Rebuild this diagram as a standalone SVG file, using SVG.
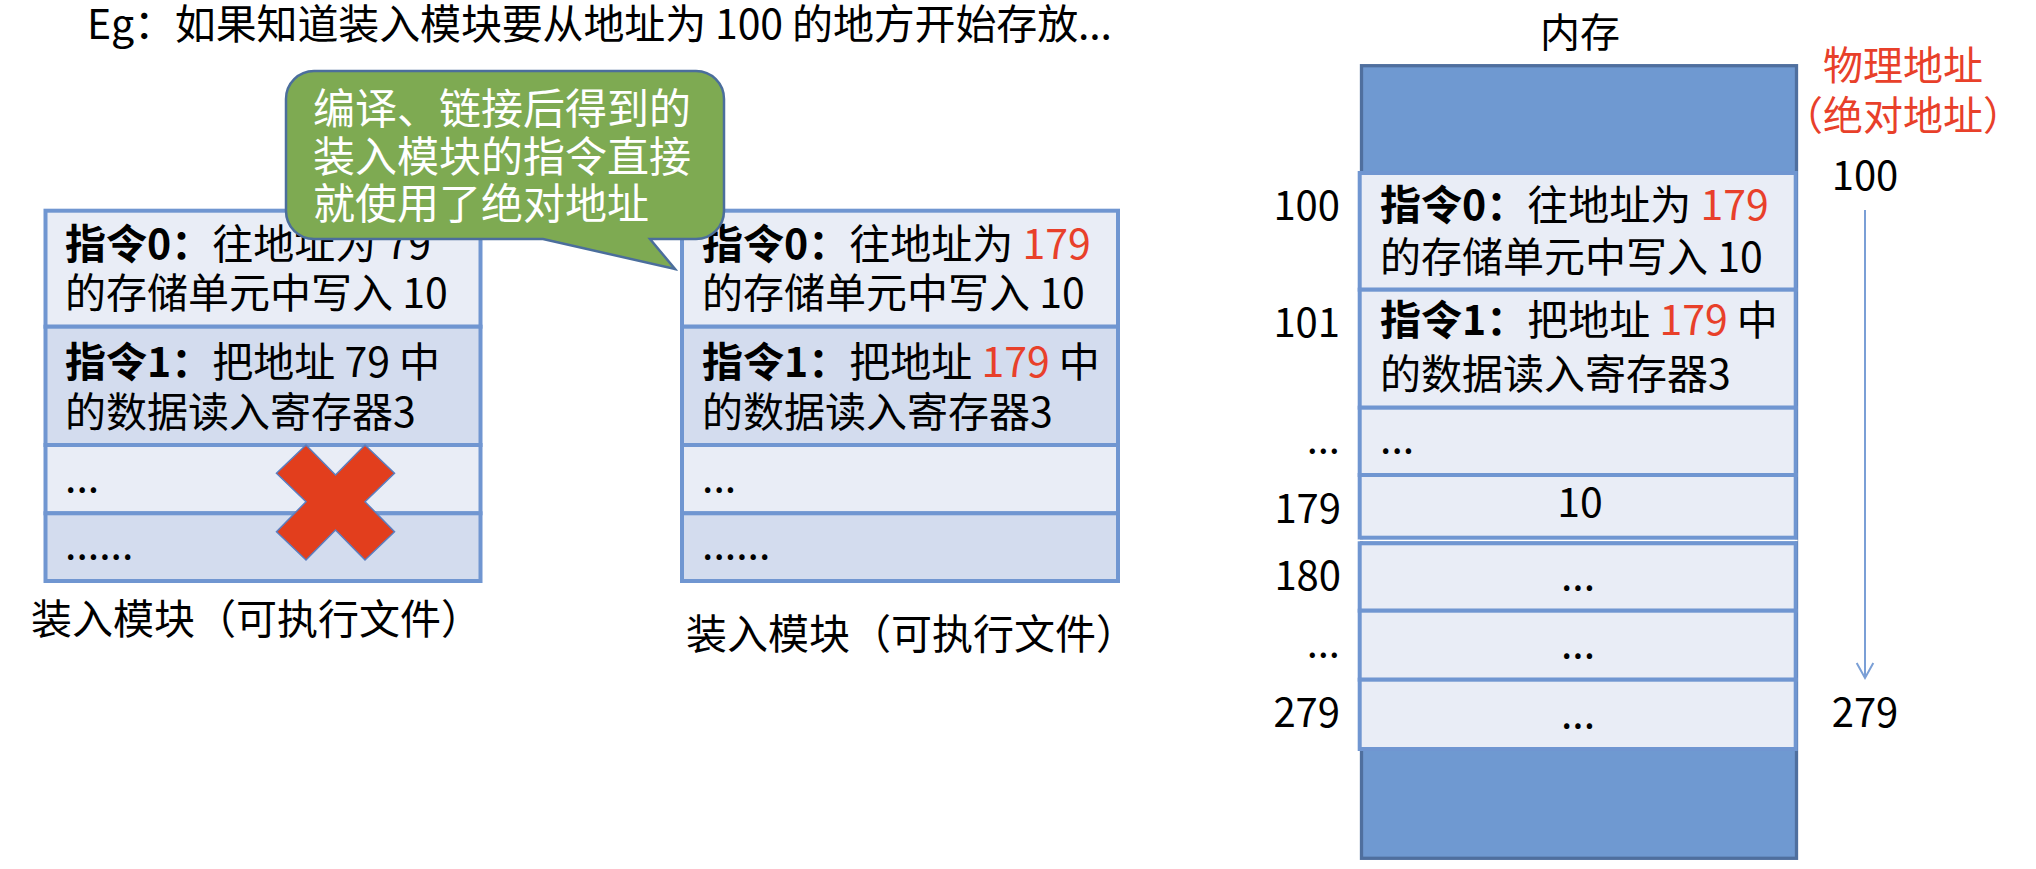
<svg xmlns="http://www.w3.org/2000/svg" width="2036" height="869" viewBox="0 0 2036 869">
<style>
text{font-family:"Noto Sans CJK SC","Noto Sans",sans-serif;fill:#000;}
.t40{font-size:40px;}
.t41{font-size:41px;}
.t42{font-size:42px;}
.b{font-weight:bold;}
.red{fill:#E8402A;}
.white{fill:#FFFFFF;}
.light{fill:#E9EDF6;stroke:#7096D1;stroke-width:4;}
.dark{fill:#D3DCEE;stroke:#7096D1;stroke-width:4;}
.mid{text-anchor:middle;}
.end{text-anchor:end;}
</style>
<defs>
<marker id="vhead" markerUnits="userSpaceOnUse" markerWidth="20" markerHeight="22" viewBox="-17 -11 19 22" refX="0" refY="0" orient="auto">
<path d="M-15,-8.3 L0,0 L-15,8.3" fill="none" stroke="#7A9FD6" stroke-width="2"/>
</marker>
</defs>
<rect x="0" y="0" width="2036" height="869" fill="#FFFFFF"/>

<g id="title">
<text class="t41" x="87" y="39" textLength="1025" lengthAdjust="spacing">Eg：如果知道装入模块要从地址为 100 的地方开始存放...</text>
</g>

<g id="module-left">
<rect class="light" x="45.5" y="210.7" width="435" height="116"/>
<rect class="dark" x="45.5" y="326.7" width="435" height="118.3"/>
<rect class="light" x="45.5" y="445" width="435" height="68.3"/>
<rect class="dark" x="45.5" y="513.3" width="435" height="67.7"/>
<text class="t41" x="65" y="259"><tspan class="b">指令0：</tspan>往地址为 79</text>
<text class="t41" x="65" y="308">的存储单元中写入 10</text>
<text class="t41" x="65" y="376.5"><tspan class="b">指令1：</tspan>把地址 79 中</text>
<text class="t41" x="65" y="426.5">的数据读入寄存器3</text>
<text class="t41" x="65" y="491.5">...</text>
<text class="t41" x="65" y="559">......</text>
<text class="t41" x="31" y="633.5">装入模块（可执行文件）</text>
</g>

<g id="module-right">
<rect class="light" x="682" y="210.7" width="436" height="116"/>
<rect class="dark" x="682" y="326.7" width="436" height="118.3"/>
<rect class="light" x="682" y="445" width="436" height="68.3"/>
<rect class="dark" x="682" y="513.3" width="436" height="67.7"/>
<text class="t41" x="702" y="259"><tspan class="b">指令0：</tspan>往地址为 <tspan class="red">179</tspan></text>
<text class="t41" x="702" y="308">的存储单元中写入 10</text>
<text class="t41" x="702" y="376.5"><tspan class="b">指令1：</tspan>把地址 <tspan class="red">179</tspan> 中</text>
<text class="t41" x="702" y="426.5">的数据读入寄存器3</text>
<text class="t41" x="702" y="491.5">...</text>
<text class="t41" x="702" y="559">......</text>
<text class="t41" x="686" y="648.5">装入模块（可执行文件）</text>
</g>

<g id="cross">
<polygon points="306,445 335.5,475 365,445 394.5,473.3 365,501.7 394.5,531.7 365,560 335.5,530 306,560 276.5,531.7 306,501.7 276.5,473.3" fill="#E23E1D" stroke="#5A7EC0" stroke-width="1.5"/>
</g>

<g id="bubble">
<path d="M314,71 H696 A28,28 0 0 1 724,99 V211 A28,28 0 0 1 696,239 H650 L675,269 L543,239 H314 A28,28 0 0 1 286,211 V99 A28,28 0 0 1 314,71 Z" fill="#7EAA52" stroke="#4B6E9C" stroke-width="2.5"/>
<text class="t42 white" x="313" y="124">编译、链接后得到的</text>
<text class="t42 white" x="313" y="172">装入模块的指令直接</text>
<text class="t42 white" x="313" y="219">就使用了绝对地址</text>
</g>

<g id="memory">
<text class="t40 mid" x="1580" y="47">内存</text>
<rect x="1361.5" y="65.7" width="435" height="792.6" fill="#6F99D1" stroke="#4F6F9E" stroke-width="3.3"/>
<rect class="light" x="1359.7" y="173" width="436" height="116.7"/>
<rect class="light" x="1359.7" y="289.7" width="436" height="118"/>
<rect class="light" x="1359.7" y="407.7" width="436" height="67.3"/>
<rect class="light" x="1359.7" y="475" width="436" height="62.7"/>
<rect x="1357.7" y="539.7" width="440" height="1.6" fill="#FFFFFF"/>
<rect class="light" x="1359.7" y="543.3" width="436" height="67.4"/>
<rect class="light" x="1359.7" y="610.7" width="436" height="69"/>
<rect class="light" x="1359.7" y="679.7" width="436" height="69.3"/>
<text class="t41" x="1380" y="220"><tspan class="b">指令0：</tspan>往地址为 <tspan class="red">179</tspan></text>
<text class="t41" x="1380" y="271.5">的存储单元中写入 10</text>
<text class="t41" x="1380" y="335"><tspan class="b">指令1：</tspan>把地址 <tspan class="red">179</tspan> 中</text>
<text class="t41" x="1380" y="389">的数据读入寄存器3</text>
<text class="t41" x="1380" y="453">...</text>
<text class="t41 mid" x="1580" y="516.5">10</text>
<text class="t41 mid" x="1578" y="590">...</text>
<text class="t41 mid" x="1578" y="658">...</text>
<text class="t41 mid" x="1578" y="728">...</text>
</g>

<g id="address-labels">
<text class="t40 end" x="1340" y="220">100</text>
<text class="t40 end" x="1340" y="337">101</text>
<text class="t40 end" x="1340" y="453">...</text>
<text class="t40 end" x="1341" y="523">179</text>
<text class="t40 end" x="1341" y="590">180</text>
<text class="t40 end" x="1340" y="657">...</text>
<text class="t40 end" x="1340" y="727">279</text>
</g>

<g id="physical-address">
<text class="t40 mid red" x="1903" y="80">物理地址</text>
<text class="t40 mid red" x="1903" y="130">（绝对地址）</text>
<text class="t40 mid" x="1865" y="190">100</text>
<text class="t40 mid" x="1865" y="727">279</text>
</g>

<g id="connectors">
<line x1="1865" y1="210" x2="1865" y2="678" stroke="#7A9FD6" stroke-width="2" marker-end="url(#vhead)"/>
</g>
</svg>
